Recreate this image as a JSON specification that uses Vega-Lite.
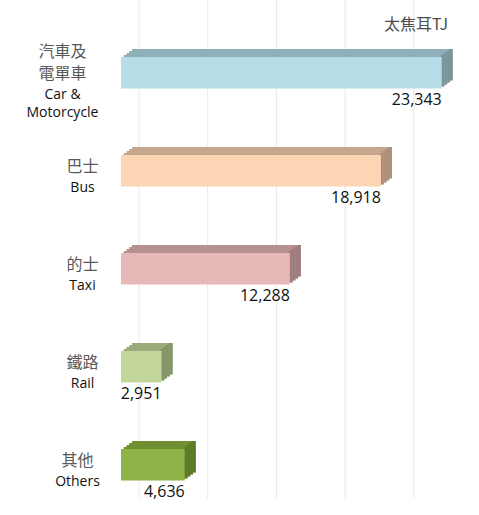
{
  "$schema": "https://vega.github.io/schema/vega-lite/v6.json",
  "autosize": "none",
  "width": 327,
  "height": 498,
  "padding": {"left": 121, "top": 0, "right": 31, "bottom": 17},
  "background": "white",
  "config": {"view": {"stroke": null}},
  "title": {
    "text": "太焦耳TJ",
    "anchor": "end",
    "orient": "top",
    "frame": "group",
    "offset": 0,
    "dy": 33,
    "font": "Noto Sans CJK TC",
    "fontSize": 16,
    "fontWeight": "normal",
    "color": "#4d4d4d"
  },
  "datasets": {
    "energy": [
      {"zh": "汽車及電單車", "en": "Car & Motorcycle", "value": 23343},
      {"zh": "巴士", "en": "Bus", "value": 18918},
      {"zh": "的士", "en": "Taxi", "value": 12288},
      {"zh": "鐵路", "en": "Rail", "value": 2951},
      {"zh": "其他", "en": "Others", "value": 4636}
    ],
    "grid": [{"v": 0}, {"v": 5000}, {"v": 10000}, {"v": 15000}, {"v": 20000}]
  },
  "data": {"name": "energy"},
  "resolve": {"scale": {"color": "independent"}, "axis": {"y": "independent"}},
  "layer": [
    {
      "data": {"name": "grid"},
      "mark": {"type": "rule", "color": "#e8e8e8", "strokeWidth": 1, "xOffset": 18},
      "encoding": {
        "x": {"field": "v", "type": "quantitative", "scale": {"domain": [0, 23800], "nice": false, "zero": true}, "axis": null}
      }
    },
    {
      "mark": {"type": "bar", "xOffset": 11, "x2Offset": 11, "yOffset": -8},
      "encoding": {
        "y": {"field": "zh", "type": "nominal", "sort": null, "axis": null},
        "x": {"field": "value", "type": "quantitative", "axis": null},
        "x2": {"datum": 0},
        "color": {"field": "zh", "type": "nominal", "legend": null, "scale": {"domain": ["汽車及電單車", "巴士", "的士", "鐵路", "其他"], "range": ["#8fb0b8", "#c8a68c", "#b59190", "#9aab7a", "#6f8f30"]}}
      }
    },
    {
      "mark": {"type": "bar", "xOffset": 7, "x2Offset": 11, "yOffset": -8},
      "encoding": {
        "y": {"field": "zh", "type": "nominal", "sort": null, "axis": null},
        "x": {"field": "value", "type": "quantitative", "axis": null},
        "x2": {"field": "value"},
        "color": {"field": "zh", "type": "nominal", "legend": null, "scale": {"domain": ["汽車及電單車", "巴士", "的士", "鐵路", "其他"], "range": ["#7a969c", "#ad8f7a", "#9e7d7d", "#85956a", "#5e7a28"]}}
      }
    },
    {
      "mark": {"type": "bar", "xOffset": 8.25, "x2Offset": 8.25, "yOffset": -6},
      "encoding": {
        "y": {"field": "zh", "type": "nominal", "sort": null, "axis": null},
        "x": {"field": "value", "type": "quantitative", "axis": null},
        "x2": {"datum": 0},
        "color": {"field": "zh", "type": "nominal", "legend": null, "scale": {"domain": ["汽車及電單車", "巴士", "的士", "鐵路", "其他"], "range": ["#8fb0b8", "#c8a68c", "#b59190", "#9aab7a", "#6f8f30"]}}
      }
    },
    {
      "mark": {"type": "bar", "xOffset": 4.25, "x2Offset": 8.25, "yOffset": -6},
      "encoding": {
        "y": {"field": "zh", "type": "nominal", "sort": null, "axis": null},
        "x": {"field": "value", "type": "quantitative", "axis": null},
        "x2": {"field": "value"},
        "color": {"field": "zh", "type": "nominal", "legend": null, "scale": {"domain": ["汽車及電單車", "巴士", "的士", "鐵路", "其他"], "range": ["#7a969c", "#ad8f7a", "#9e7d7d", "#85956a", "#5e7a28"]}}
      }
    },
    {
      "mark": {"type": "bar", "xOffset": 5.5, "x2Offset": 5.5, "yOffset": -4},
      "encoding": {
        "y": {"field": "zh", "type": "nominal", "sort": null, "axis": null},
        "x": {"field": "value", "type": "quantitative", "axis": null},
        "x2": {"datum": 0},
        "color": {"field": "zh", "type": "nominal", "legend": null, "scale": {"domain": ["汽車及電單車", "巴士", "的士", "鐵路", "其他"], "range": ["#8fb0b8", "#c8a68c", "#b59190", "#9aab7a", "#6f8f30"]}}
      }
    },
    {
      "mark": {"type": "bar", "xOffset": 1.5, "x2Offset": 5.5, "yOffset": -4},
      "encoding": {
        "y": {"field": "zh", "type": "nominal", "sort": null, "axis": null},
        "x": {"field": "value", "type": "quantitative", "axis": null},
        "x2": {"field": "value"},
        "color": {"field": "zh", "type": "nominal", "legend": null, "scale": {"domain": ["汽車及電單車", "巴士", "的士", "鐵路", "其他"], "range": ["#7a969c", "#ad8f7a", "#9e7d7d", "#85956a", "#5e7a28"]}}
      }
    },
    {
      "mark": {"type": "bar", "xOffset": 2.75, "x2Offset": 2.75, "yOffset": -2},
      "encoding": {
        "y": {"field": "zh", "type": "nominal", "sort": null, "axis": null},
        "x": {"field": "value", "type": "quantitative", "axis": null},
        "x2": {"datum": 0},
        "color": {"field": "zh", "type": "nominal", "legend": null, "scale": {"domain": ["汽車及電單車", "巴士", "的士", "鐵路", "其他"], "range": ["#8fb0b8", "#c8a68c", "#b59190", "#9aab7a", "#6f8f30"]}}
      }
    },
    {
      "mark": {"type": "bar", "xOffset": -1, "x2Offset": 2.75, "yOffset": -2},
      "encoding": {
        "y": {"field": "zh", "type": "nominal", "sort": null, "axis": null},
        "x": {"field": "value", "type": "quantitative", "axis": null},
        "x2": {"field": "value"},
        "color": {"field": "zh", "type": "nominal", "legend": null, "scale": {"domain": ["汽車及電單車", "巴士", "的士", "鐵路", "其他"], "range": ["#7a969c", "#ad8f7a", "#9e7d7d", "#85956a", "#5e7a28"]}}
      }
    },
    {
      "mark": {"type": "bar"},
      "encoding": {
        "y": {
          "field": "zh", "type": "nominal", "sort": null,
          "scale": {"paddingInner": 0.68, "paddingOuter": 0.3808, "align": 0.764},
          "axis": {
            "orient": "left", "title": null, "domain": false, "ticks": false, "tickSize": 0, "grid": false,
            "labelAlign": "center", "labelBaseline": "middle",
            "labelFont": "Noto Sans CJK TC", "labelFontSize": 16, "labelColor": "#595959", "labelLineHeight": 22,
            "labelExpr": "datum.value == '汽車及電單車' ? ['汽車及', '電單車'] : datum.value",
            "labelOffset": {"condition": {"test": "datum.value == '汽車及電單車'", "value": -21}, "value": -3.5},
            "labelPadding": {"condition": [{"test": "datum.value == '汽車及電單車'", "value": 59}, {"test": "datum.value == '其他'", "value": 44}], "value": 39}
          }
        },
        "x": {"field": "value", "type": "quantitative", "axis": null},
        "x2": {"datum": 0},
        "color": {"field": "zh", "type": "nominal", "legend": null, "scale": {"domain": ["汽車及電單車", "巴士", "的士", "鐵路", "其他"], "range": ["#b7dde8", "#fcd5b5", "#e6b9b8", "#c3d69b", "#8eb246"]}}
      }
    },
    {
      "mark": {"type": "text", "align": "right", "baseline": "middle", "yOffset": 27, "font": "Open Sans", "fontSize": 16, "color": "#111111"},
      "encoding": {
        "y": {
          "field": "zh", "type": "nominal", "sort": null,
          "axis": {
            "orient": "left", "title": null, "domain": false, "ticks": false, "tickSize": 0, "grid": false,
            "labelAlign": "center", "labelBaseline": "middle",
            "labelFont": "Open Sans", "labelFontSize": 14, "labelColor": "#111111", "labelLineHeight": 18,
            "labelExpr": "datum.value == '汽車及電單車' ? ['Car &', 'Motorcycle'] : datum.value == '巴士' ? 'Bus' : datum.value == '的士' ? 'Taxi' : datum.value == '鐵路' ? 'Rail' : 'Others'",
            "labelOffset": {"condition": {"test": "datum.value == '汽車及電單車'", "value": 22}, "value": 17},
            "labelPadding": {"condition": [{"test": "datum.value == '汽車及電單車'", "value": 59}, {"test": "datum.value == '其他'", "value": 44}], "value": 39}
          }
        },
        "x": {"field": "value", "type": "quantitative", "axis": null},
        "text": {"field": "value", "type": "quantitative", "format": ",d"}
      }
    }
  ]
}
